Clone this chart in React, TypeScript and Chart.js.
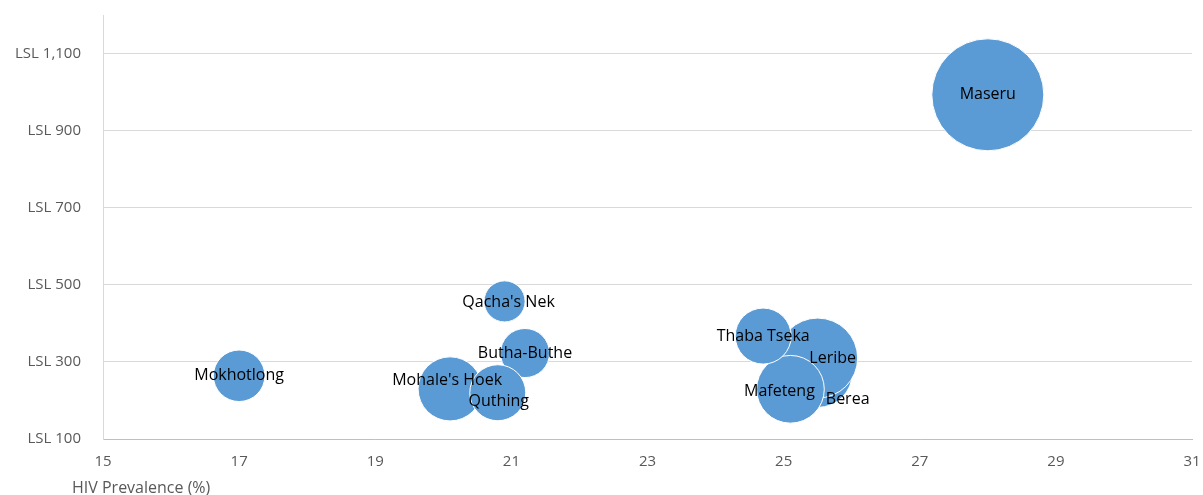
import React, { useEffect, useRef } from "react";
import { Chart, registerables } from "chart.js";

Chart.register(...registerables);

// Districts (data order as in the source sheet)
const districts = [
  "Berea",
  "Butha-Buthe",
  "Leribe",
  "Mafeteng",
  "Maseru",
  "Mohale's Hoek",
  "Mokhotlong",
  "Qacha's Nek",
  "Quthing",
  "Thaba Tseka",
];
// HIV prevalence (%)
const hivPrevalence = [25.5, 21.2, 25.5, 25.1, 28.0, 20.1, 17.0, 20.9, 20.8, 24.7];
// Cost per person (LSL)
const costLSL = [272, 323, 310, 229, 993, 230, 264, 457, 220, 367];
// Bubble size (relative, e.g. population in thousands)
const bubbleSize = [200, 100, 265, 190, 520, 170, 110, 70, 130, 130];

const xTickValues = [15, 17, 19, 21, 23, 25, 27, 29, 31];
const yTickValues = [100, 300, 500, 700, 900, 1100];
const yAxisMax = 1200;
const xAxisTitle = "HIV Prevalence (%)";

const FONT = "'Open Sans', 'Noto Sans', sans-serif";
const MAX_R = 56;

const labelOffsets: Record<string, [number, number]> = {
  Berea: [30, 27],
  Leribe: [15, 0],
  Mafeteng: [-11, 2],
  "Mohale's Hoek": [-3, -8],
  Quthing: [1, 9],
  "Qacha's Nek": [4, 1],
};

const bubbleLabels = {
  id: "bubbleLabels",
  afterDatasetsDraw(chart: any) {
    const ctx = chart.ctx;
    const meta = chart.getDatasetMeta(0);
    ctx.save();
    ctx.font = `16px ${FONT}`;
    ctx.fillStyle = "#000000";
    ctx.textAlign = "center";
    ctx.textBaseline = "middle";
    meta.data.forEach((el: any, i: number) => {
      const name = districts[i];
      const off = labelOffsets[name] || [0, 0];
      ctx.fillText(name, el.x + off[0], el.y + off[1]);
    });
    ctx.restore();
  },
};

const axisTitle = {
  id: "axisTitle",
  afterDraw(chart: any) {
    const ctx = chart.ctx;
    ctx.save();
    ctx.font = `16px ${FONT}`;
    ctx.fillStyle = "#595959";
    ctx.textAlign = "left";
    ctx.textBaseline = "middle";
    ctx.fillText(xAxisTitle, chart.chartArea.left - 31, chart.height - 7);
    ctx.restore();
  },
};

const zeroPad = (s: any) => {
  s.paddingTop = 0;
  s.paddingBottom = 0;
  s.paddingLeft = 0;
  s.paddingRight = 0;
};

export default function App() {
  const ref = useRef<HTMLCanvasElement>(null);
  useEffect(() => {
    document.body.style.margin = "0";
    const maxSize = Math.max(...bubbleSize);
    const data = districts.map((_, i) => ({
      x: hivPrevalence[i],
      y: costLSL[i],
      r: MAX_R * Math.sqrt(bubbleSize[i] / maxSize),
    }));
    const chart = new Chart(ref.current!, {
      type: "bubble",
      data: {
        datasets: [
          {
            label: "Districts",
            data,
            backgroundColor: "#5B9BD5",
            borderColor: "#FFFFFF",
            borderWidth: 1,
            clip: false,
          } as any,
        ],
      },
      options: {
        responsive: false,
        animation: false,
        layout: { autoPadding: false, padding: { top: 15, right: 11, left: 0, bottom: 0 } },
        plugins: {
          legend: { display: false },
          tooltip: { enabled: false },
        },
        scales: {
          x: {
            type: "linear",
            min: xTickValues[0],
            max: xTickValues[xTickValues.length - 1],
            afterBuildTicks: (s: any) => {
              s.ticks = xTickValues.map((v) => ({ value: v }));
            },
            ticks: {
              color: "#595959",
              font: { family: FONT, size: 15 },
              padding: 14,
            },
            grid: { display: false, drawTicks: false },
            border: { display: true, color: "#BFBFBF", width: 1 },
            afterFit: (s: any) => {
              s.height = 56;
              zeroPad(s);
            },
          },
          y: {
            type: "linear",
            min: yTickValues[0],
            max: yAxisMax,
            afterBuildTicks: (s: any) => {
              s.ticks = yTickValues.map((v) => ({ value: v }));
            },
            ticks: {
              color: "#595959",
              font: { family: FONT, size: 15 },
              padding: 22,
              callback: (v: any) => "LSL " + Number(v).toLocaleString("en-US"),
            },
            grid: { color: "#D9D9D9", drawTicks: false, lineWidth: 1 },
            border: { display: true, color: "#D9D9D9", width: 1 },
            afterFit: (s: any) => {
              s.width = 103;
              zeroPad(s);
            },
          },
        },
      },
      plugins: [bubbleLabels, axisTitle],
    });
    return () => chart.destroy();
  }, []);
  return (
    <div style={{ width: 1203, height: 495 }}>
      <canvas ref={ref} width={1203} height={495} />
    </div>
  );
}
